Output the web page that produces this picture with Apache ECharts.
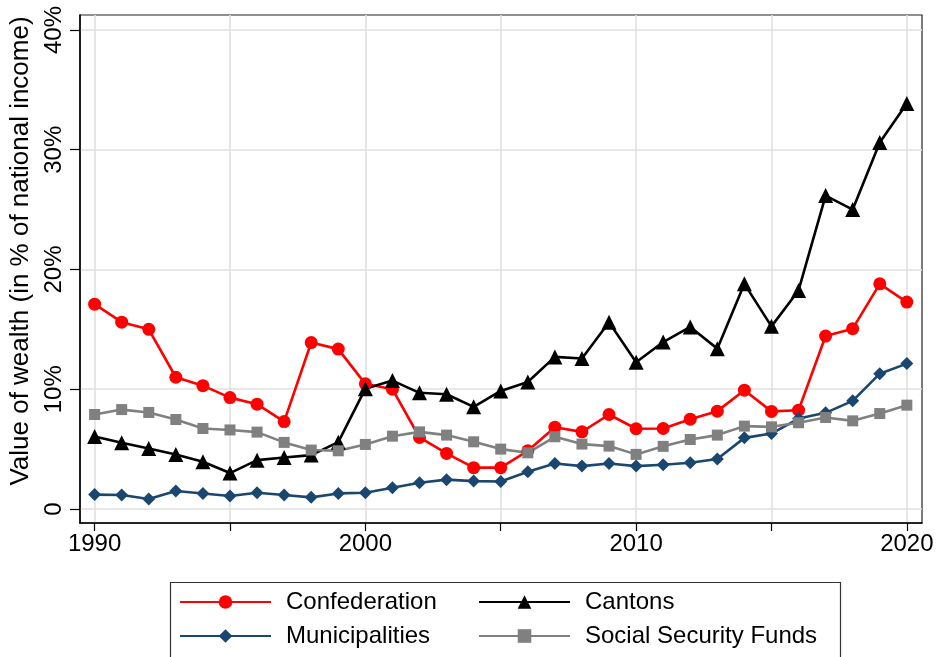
<!DOCTYPE html>
<html>
<head>
<meta charset="utf-8">
<script src="https://cdn.jsdelivr.net/npm/echarts@6/dist/echarts.min.js"></script>
<style>html,body{margin:0;padding:0;background:#fff}#c{width:938px;height:657px}</style>
</head>
<body>
<div id="c"></div>
<script>
const years = [1990,1991,1992,1993,1994,1995,1996,1997,1998,1999,2000,2001,2002,2003,2004,2005,2006,2007,2008,2009,2010,2011,2012,2013,2014,2015,2016,2017,2018,2019,2020];
const confederation = [17.1,15.6,15.0,11.0,10.3,9.3,8.75,7.3,13.9,13.35,10.45,10.0,5.97,4.64,3.45,3.45,4.86,6.83,6.44,7.89,6.7,6.72,7.5,8.17,9.92,8.15,8.25,14.44,15.06,18.8,17.28];
const cantons = [6.05,5.53,5.05,4.55,3.95,3.0,4.08,4.3,4.5,5.58,10.05,10.72,9.7,9.58,8.53,9.86,10.6,12.7,12.56,15.6,12.25,13.94,15.2,13.39,18.8,15.25,18.25,26.17,25.0,30.6,33.86];
const municipalities = [1.2,1.17,0.83,1.5,1.3,1.08,1.36,1.17,0.97,1.3,1.36,1.78,2.19,2.45,2.33,2.3,3.11,3.8,3.58,3.8,3.58,3.69,3.86,4.17,5.94,6.3,7.55,8.03,9.03,11.3,12.14];
const socialSecurity = [7.89,8.3,8.06,7.47,6.72,6.6,6.42,5.56,4.92,4.86,5.39,6.08,6.44,6.17,5.61,5.0,4.69,6.03,5.42,5.25,4.56,5.23,5.8,6.17,6.92,6.86,7.2,7.64,7.36,7.97,8.67];
const xTicks = [1990,1995,2000,2005,2010,2015,2020];
const xLabels = [1990,2000,2010,2020];
const yTicks = [0,10,20,30,40];

const FONT = 'Liberation Sans, Arimo, Arial, sans-serif';
const pairs = arr => years.map((y, i) => [y, arr[i]]);

const chart = echarts.init(document.getElementById('c'), null, {renderer: 'canvas'});
function mk(name, data, color, symbol, size) {
  return {
    name, type: 'line', data: pairs(data),
    symbol, symbolSize: size, showSymbol: true,
    lineStyle: {color, width: 2.6},
    itemStyle: {color, borderWidth: 0},
    clip: false, animation: false, z: 3
  };
}
const legendText = {fontFamily: FONT, fontSize: 24, color: '#000', lineHeight: 24, padding: [0,0,0,10]};
const legendBase = {top: 590, orient: 'vertical', padding: 0, itemWidth: 91, itemHeight: 17, itemGap: 10, textStyle: legendText, selectedMode: false};
chart.setOption({
  animation: false,
  backgroundColor: '#fff',
  grid: {left: 80, right: 16, top: 15, bottom: 134, show: true, borderColor: '#222', borderWidth: 1.2, containLabel: false, outerBoundsMode: 'none'},
  xAxis: {
    type: 'value', min: 1989.46, max: 2020.56,
    axisLine: {show: true, onZero: false, lineStyle: {color: '#000', width: 1.5}},
    axisTick: {show: true, length: 8, customValues: xTicks, lineStyle: {color: '#000', width: 1.2}},
    axisLabel: {customValues: xLabels, fontFamily: FONT, fontSize: 24, color: '#000', margin: 9, formatter: v => String(v)},
    splitLine: {show: true, lineStyle: {color: '#e0e0e0', width: 1.6}}
  },
  yAxis: {
    type: 'value', min: -1.17, max: 41.25,
    name: 'Value of wealth (in % of national income)', nameLocation: 'middle', nameRotate: 90, nameGap: 42,
    nameTextStyle: {fontFamily: FONT, fontSize: 26, color: '#000', padding: [0, 0, 0, 36]},
    axisLine: {show: true, onZero: false, lineStyle: {color: '#000', width: 1.5}},
    axisTick: {show: true, length: 10, customValues: yTicks, lineStyle: {color: '#000', width: 1.2}},
    axisLabel: {customValues: yTicks, rotate: 90, fontFamily: FONT, fontSize: 24, color: '#000', margin: 14, formatter: v => v === 0 ? '0' : v + '%'},
    splitLine: {show: true, lineStyle: {color: '#e0e0e0', width: 1.6}}
  },
  legend: [
    Object.assign({left: 179, data: ['Confederation','Municipalities']}, legendBase),
    Object.assign({left: 478, data: ['Cantons','Social Security Funds']}, legendBase)
  ],
  graphic: [{type: 'rect', left: 168, top: 580, shape: {width: 670, height: 100}, style: {fill: 'none', stroke: '#333', lineWidth: 1.2}, silent: true}],
  series: [
    mk('Confederation', confederation, '#ff0000', 'circle', 13),
    mk('Cantons', cantons, '#000000', 'triangle', 15),
    mk('Municipalities', municipalities, '#1a476f', 'diamond', 13),
    mk('Social Security Funds', socialSecurity, '#808080', 'rect', 11)
  ]
});
</script>
</body>
</html>
